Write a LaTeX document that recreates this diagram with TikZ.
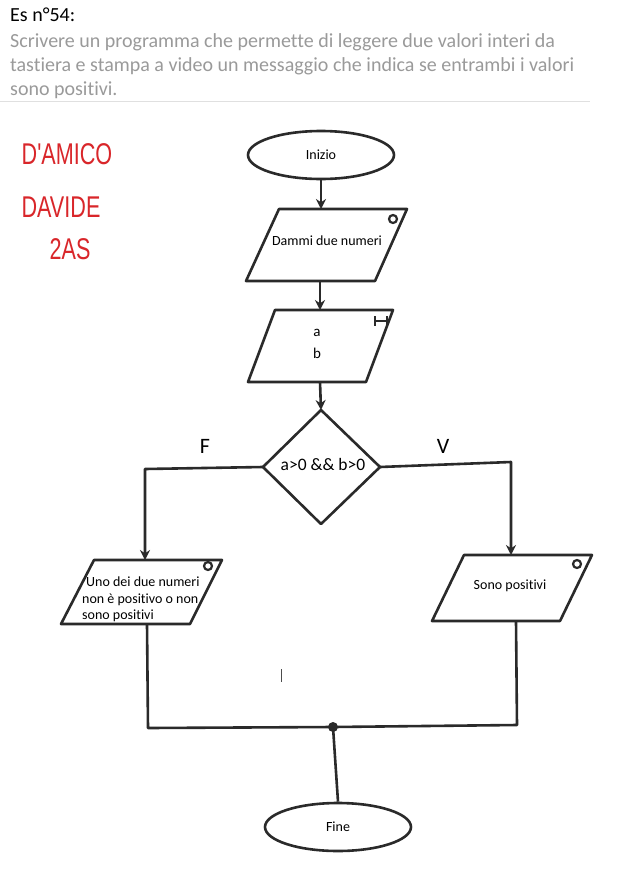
\documentclass[tikz,border=0pt]{standalone}
\usepackage{fontspec}
\setmainfont{Carlito}[Ligatures=CommonOff]
\newfontfamily\handfont{Liberation Sans}
\usetikzlibrary{shapes.geometric,arrows.meta}
\definecolor{ink}{HTML}{2A2A2A}
\definecolor{desc}{HTML}{9A9A9A}
\definecolor{hand}{HTML}{D9262A}
\tikzset{
  ln/.style={draw=ink, line width=2.6pt},
  arr/.style={ln, -{Stealth[length=10pt,width=10pt]}},
  term/.style={ellipse, ln, minimum width=146pt, minimum height=48pt, inner sep=0pt, font=\fontsize{14}{16}\selectfont},
  txt/.style={inner sep=0pt, font=\fontsize{14}{16}\selectfont, text=black},
  cornermark/.style={draw=ink, line width=2.2pt},
  head/.style={anchor=base west, inner sep=0pt, font=\fontsize{20}{22}\selectfont},
  sign/.style={inner sep=0pt, font=\handfont\fontsize{30}{32}\selectfont, text=hand, xscale=0.72},
  lbl/.style={inner sep=0pt, font=\fontsize{22}{24}\selectfont}
}
\begin{document}
\begin{tikzpicture}[x=1pt,y=-1pt]
\useasboundingbox[fill=white] (0,0) rectangle (626,884);

% header
\node[head] (title) at (10,21) {Es n°54:};
\node[head, text=desc] (d1) at (10,47) {Scrivere un programma che permette di leggere due valori interi da};
\node[head, text=desc] (d2) at (10,71) {tastiera e stampa a video un messaggio che indica se entrambi i valori};
\node[head, text=desc] (d3) at (10,95) {sono positivi.};
\draw[draw=black!12, line width=1pt] (0,101) -- (590,101);

% signature
\node[sign] (s1) at (67,154) {D'AMICO};
\node[sign] (s2) at (61,207) {DAVIDE};
\node[sign] (s3) at (70,249) {2AS};

% start
\node[term] (inizio) at (321,155) {Inizio};

% input/output 1
\coordinate (p1a) at (279,209); \coordinate (p1b) at (407,209);
\coordinate (p1c) at (375,281); \coordinate (p1d) at (246,281);
\draw[ln, line join=round] (p1a) -- (p1b) -- (p1c) -- (p1d) -- cycle;
\coordinate (p1top) at (321,209); \coordinate (p1bot) at (320,281);
\node[txt] (dammi) at (327,241) {Dammi due numeri};
\draw[cornermark] (393,219) circle (4pt);

% input a b
\coordinate (p2a) at (275,310); \coordinate (p2b) at (393,310);
\coordinate (p2c) at (366,382); \coordinate (p2d) at (248,382);
\draw[ln, line join=round] (p2a) -- (p2b) -- (p2c) -- (p2d) -- cycle;
\coordinate (p2top) at (320,310); \coordinate (p2bot) at (320,382);
\node[txt, font=\fontsize{15}{16}\selectfont] (va) at (317,333) {a};
\node[txt, font=\fontsize{15}{16}\selectfont] (vb) at (317,353) {b};
\draw[cornermark] (375,321) -- (387,321) (375,316) -- (375,326) (387,316) -- (387,326);

% decision
\coordinate (dt) at (321,410); \coordinate (dr) at (380,467);
\coordinate (db) at (321,524); \coordinate (dl) at (263,467);
\draw[ln, line join=round] (dt) -- (dr) -- (db) -- (dl) -- cycle;
\node[txt, font=\fontsize{17.5}{18}\selectfont] (cond) at (323,464) {a>0 \&\& b>0};
\node[lbl] (F) at (205,446) {F};
\node[lbl] (V) at (443,446) {V};

% left output
\coordinate (p3a) at (94,560); \coordinate (p3b) at (222,560);
\coordinate (p3c) at (190,624); \coordinate (p3d) at (61,624);
\draw[ln, line join=round] (p3a) -- (p3b) -- (p3c) -- (p3d) -- cycle;
\coordinate (p3top) at (145,560); \coordinate (p3bot) at (147,624);
\node[txt, anchor=base west] (l1) at (86,586) {Uno dei due numeri};
\node[txt, anchor=base west] (l2) at (82,603) {non è positivo o non};
\node[txt, anchor=base west] (l3) at (82,619) {sono positivi};
\draw[cornermark] (208,566) circle (4pt);

% right output
\coordinate (p4a) at (464,555); \coordinate (p4b) at (592,555);
\coordinate (p4c) at (560,621); \coordinate (p4d) at (432,621);
\draw[ln, line join=round] (p4a) -- (p4b) -- (p4c) -- (p4d) -- cycle;
\coordinate (p4top) at (511,555); \coordinate (p4bot) at (516,621);
\node[txt] (sono) at (510,586) {Sono positivi};
\draw[cornermark] (577,564) circle (4pt);

% end
\node[term] (fine) at (338,827) {Fine};

% connectors
\draw[arr] (inizio.south) -- (p1top);
\draw[arr] (p1bot) -- (p2top);
\draw[arr] (p2bot) -- (dt);
\coordinate (fL) at (145,469);
\coordinate (vR) at (511,462);
\draw[arr, line join=round] (dl) -- (fL) -- (p3top);
\draw[arr, line join=round] (dr) -- (vR) -- (p4top);
\coordinate (jL) at (148,728);
\coordinate (jR) at (517,725);
\coordinate (junc) at (333,727);
\draw[ln, line join=round] (p3bot) -- (jL) -- (junc) -- (jR) -- (p4bot);
\fill[ink] (junc) circle (5pt);
\draw[ln] (junc) -- (fine.north);

% caret
\draw[black!70, line width=0.8pt] (281,669) -- (281,682);
\end{tikzpicture}
\end{document}
